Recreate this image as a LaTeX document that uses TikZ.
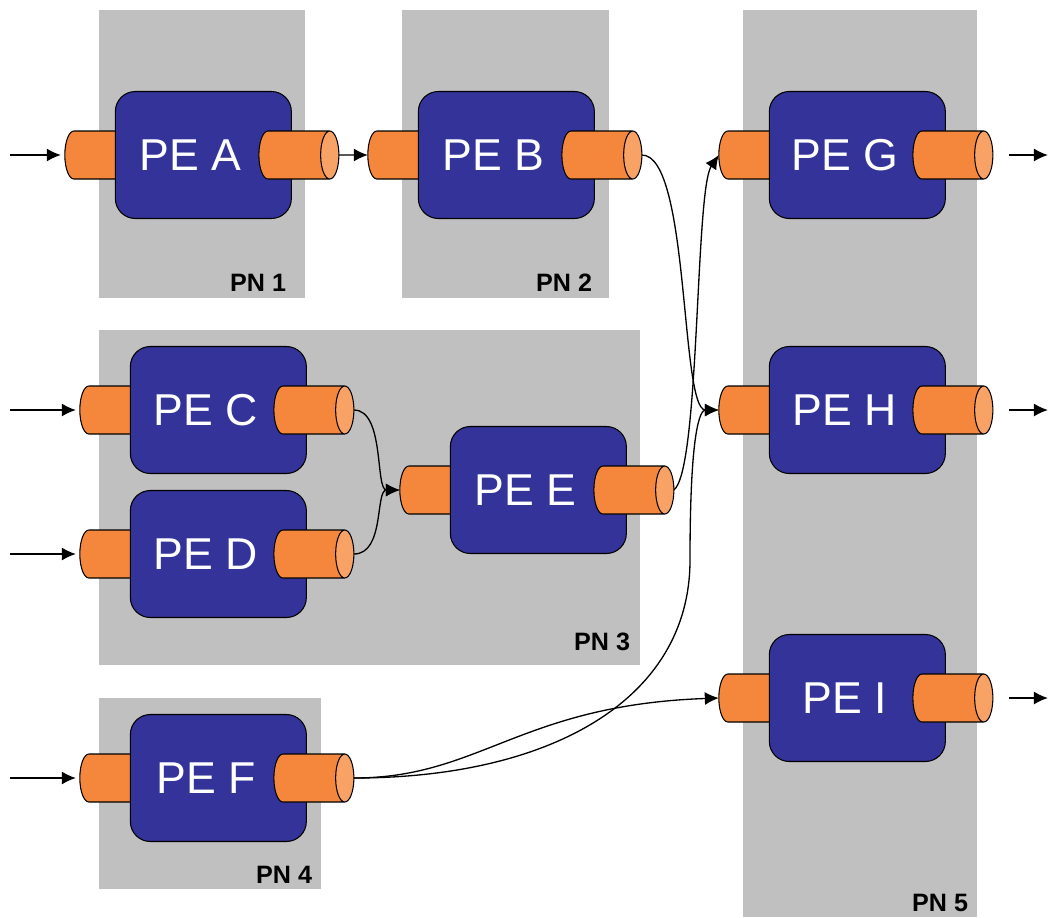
\documentclass[tikz,border=0pt]{standalone}
\usepackage{fontspec}
\setmainfont{Liberation Sans}
\usetikzlibrary{positioning, shapes.geometric, arrows.meta}

\definecolor{pngray}{HTML}{C0C0C0}
\definecolor{peblue}{HTML}{333399}
\definecolor{portorange}{HTML}{F4873C}
\definecolor{portend}{HTML}{F8A266}

\begin{document}
\begin{tikzpicture}[
    x=0.2mm, y=0.2mm,
    pn/.style={
      fill=pngray, inner sep=0pt
    },
    pnlabel/.style={
      inner sep=0pt, font=\fontsize{14.3}{16}\selectfont\bfseries
    },
    pe/.style={
      draw, line width=0.6pt, fill=peblue, rounded corners=4mm,
      minimum width=35.2mm, minimum height=25.4mm, label={[petext]center:#1}
    },
    petext/.style={
      xshift=-2.5mm, text=white, font=\fontsize{25.4}{30}\selectfont
    },
    port/.style={
      draw, semithick, cylinder, shape aspect=0.38, cylinder uses custom fill,
      cylinder body fill=portorange, cylinder end fill=portend,
      text height=4.8mm, text depth=4.8mm, inner sep=0pt, outer sep=0pt
    },
    inport/.style={
      port, minimum height=14mm
    },
    outport/.style={
      port, minimum height=16mm
    },
    stream/.style={
      ->, line width=0.75pt
    },
    >={Latex[length=2.8mm, width=2.6mm]},
  ]
    \useasboundingbox (0,0) rectangle (1049,-917);

    % Processing nodes
    \node [pn, minimum width=41.2mm, minimum height=57.6mm] (pn1) at (202,-154) {};
    \node [pn, minimum width=41.4mm, minimum height=57.6mm] (pn2) at (505.5,-154) {};
    \node [pn, minimum width=108.2mm, minimum height=67mm] (pn3) at (369.5,-497.5) {};
    \node [pn, minimum width=44.4mm, minimum height=38.2mm] (pn4) at (210,-793.5) {};
    \node [pn, minimum width=46.8mm, minimum height=181.4mm] (pn5) at (860,-463.5) {};

    \node [pnlabel, above left=1.4mm and 3.8mm of pn1.south east] (pn1_label) {PN 1};
    \node [pnlabel, above left=1.4mm and 3.4mm of pn2.south east] (pn2_label) {PN 2};
    \node [pnlabel, above left=2.8mm and 2mm of pn3.south east] (pn3_label) {PN 3};
    \node [pnlabel, above left=1.2mm and 1.8mm of pn4.south east] (pn4_label) {PN 4};
    \node [pnlabel, above left=1mm and 1.8mm of pn5.south east] (pn5_label) {PN 5};

    % Processing elements
    \node [inport] (a_in) at (95,-155) {};
    \node [pe=PE A, right=-4mm of a_in.east] (pe_a) {};
    \node [outport, right=-6.6mm of pe_a.east] (a_out) {};

    \node [inport] (b_in) at (398,-155) {};
    \node [pe=PE B, right=-4mm of b_in.east] (pe_b) {};
    \node [outport, right=-6.6mm of pe_b.east] (b_out) {};

    \node [inport] (c_in) at (110,-410) {};
    \node [pe=PE C, right=-4mm of c_in.east] (pe_c) {};
    \node [outport, right=-6.6mm of pe_c.east] (c_out) {};

    \node [inport] (d_in) at (110,-554) {};
    \node [pe=PE D, right=-4mm of d_in.east] (pe_d) {};
    \node [outport, right=-6.6mm of pe_d.east] (d_out) {};

    \node [inport] (e_in) at (430,-490) {};
    \node [pe=PE E, right=-4mm of e_in.east] (pe_e) {};
    \node [outport, right=-6.6mm of pe_e.east] (e_out) {};

    \node [inport] (f_in) at (110,-778) {};
    \node [pe=PE F, right=-4mm of f_in.east] (pe_f) {};
    \node [outport, right=-6.6mm of pe_f.east] (f_out) {};

    \node [inport] (g_in) at (749,-155) {};
    \node [pe=PE G, right=-4mm of g_in.east] (pe_g) {};
    \node [outport, right=-6.6mm of pe_g.east] (g_out) {};

    \node [inport] (h_in) at (749,-410) {};
    \node [pe=PE H, right=-4mm of h_in.east] (pe_h) {};
    \node [outport, right=-6.6mm of pe_h.east] (h_out) {};

    \node [inport] (i_in) at (749,-698) {};
    \node [pe=PE I, right=-4mm of i_in.east] (pe_i) {};
    \node [outport, right=-6.6mm of pe_i.east] (i_out) {};

    % Sources and sinks
    \coordinate [left=11mm of a_in.west] (a_src);
    \coordinate [left=14mm of c_in.west] (c_src);
    \coordinate [left=14mm of d_in.west] (d_src);
    \coordinate [left=14mm of f_in.west] (f_src);
    \coordinate [right=11mm of g_out.east] (g_dst);
    \coordinate [right=11mm of h_out.east] (h_dst);
    \coordinate [right=11mm of i_out.east] (i_dst);

    \draw [stream, shorten >=0.8mm] (a_src) -- (a_in);
    \draw [stream, shorten >=0.8mm] (c_src) -- (c_in);
    \draw [stream, shorten >=0.8mm] (d_src) -- (d_in);
    \draw [stream, shorten >=0.8mm] (f_src) -- (f_in);
    \draw [stream, shorten <=3.2mm] (g_out) -- (g_dst);
    \draw [stream, shorten <=3.2mm] (h_out) -- (h_dst);
    \draw [stream, shorten <=3.2mm] (i_out) -- (i_dst);

    % Streams
    \draw [stream] (a_out) -- (b_in);
    \draw [stream] (b_out.east) .. controls (690,-155) and (680,-410) .. (h_in.west);
    \draw [stream] (e_out.east) .. controls (700,-470) and (695,-190) .. (g_in.west);
    \draw [stream] (c_out.east) .. controls (385,-410) and (375,-490) .. (e_in.west);
    \draw [stream] (d_out.east) .. controls (385,-554) and (375,-490) .. (e_in.west);
    \draw [stream] (f_out.east) .. controls (550,-778) and (690,-700) .. (690,-560)
      .. controls (690,-430) and (700,-410) .. (h_in.west);
    \draw [stream] (f_out.east) .. controls (480,-778) and (520,-705) .. (i_in.west);

  \end{tikzpicture}
\end{document}
